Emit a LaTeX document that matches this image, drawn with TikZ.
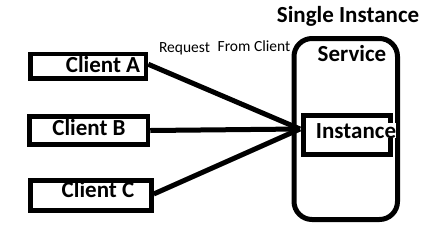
\documentclass[tikz,border=0pt]{standalone}
\usepackage{fontspec}
\setmainfont{Carlito}
\begin{document}
\begin{tikzpicture}[x=1pt,y=-1pt,
  clientbox/.style={draw=black,line width=4.5pt,inner sep=0pt,minimum width=#1},
  bigtxt/.style={font=\bfseries\fontsize{23}{26}\selectfont,inner sep=0pt,anchor=base},
  smalltxt/.style={font=\fontsize{15.5}{18}\selectfont,inner sep=0pt,anchor=base},
  conn/.style={line width=5pt}]
\useasboundingbox[fill=white] (0,0) rectangle (441,247);
% client boxes
\node[clientbox=115.5,minimum height=24.5pt] (a) at (88.25,66.25) {};
\node[clientbox=118.5,minimum height=28pt] (b) at (88.75,130.5) {};
\node[clientbox=121,minimum height=30pt] (c) at (91,195.5) {};
\node[bigtxt] (ta) at (103,72) {Client A};
\node[bigtxt] (tb) at (89,135) {Client B};
\node[bigtxt] (tc) at (98,197) {Client C};
% request label
\node[smalltxt] (req) at (184.5,52.7) {Request};
\node[smalltxt] (from) at (254,51) {From Client};
% service container
\node[draw=black,line width=5pt,rounded corners=18pt,inner sep=0pt,
      minimum width=103.5pt,minimum height=181pt] (svc) at (345.75,129) {};
\node[bigtxt] (tsvc) at (352,61) {Service};
\node[bigtxt] (tsingle) at (348,22.7) {Single Instance};
% instance box
\node[draw=black,line width=5pt,inner sep=0pt,minimum width=87pt,minimum height=39pt] (inst) at (347,135) {};
\node[bigtxt,fill=white] (tinst) at (356,138) {Instance};
% connectors
\coordinate (hub) at (300,129);
\draw[conn] ([yshift=2pt]a.east) -- (hub);
\draw[conn] (b.east) -- (hub);
\draw[conn] ([yshift=1.5pt]c.east) -- (hub);
\end{tikzpicture}
\end{document}
